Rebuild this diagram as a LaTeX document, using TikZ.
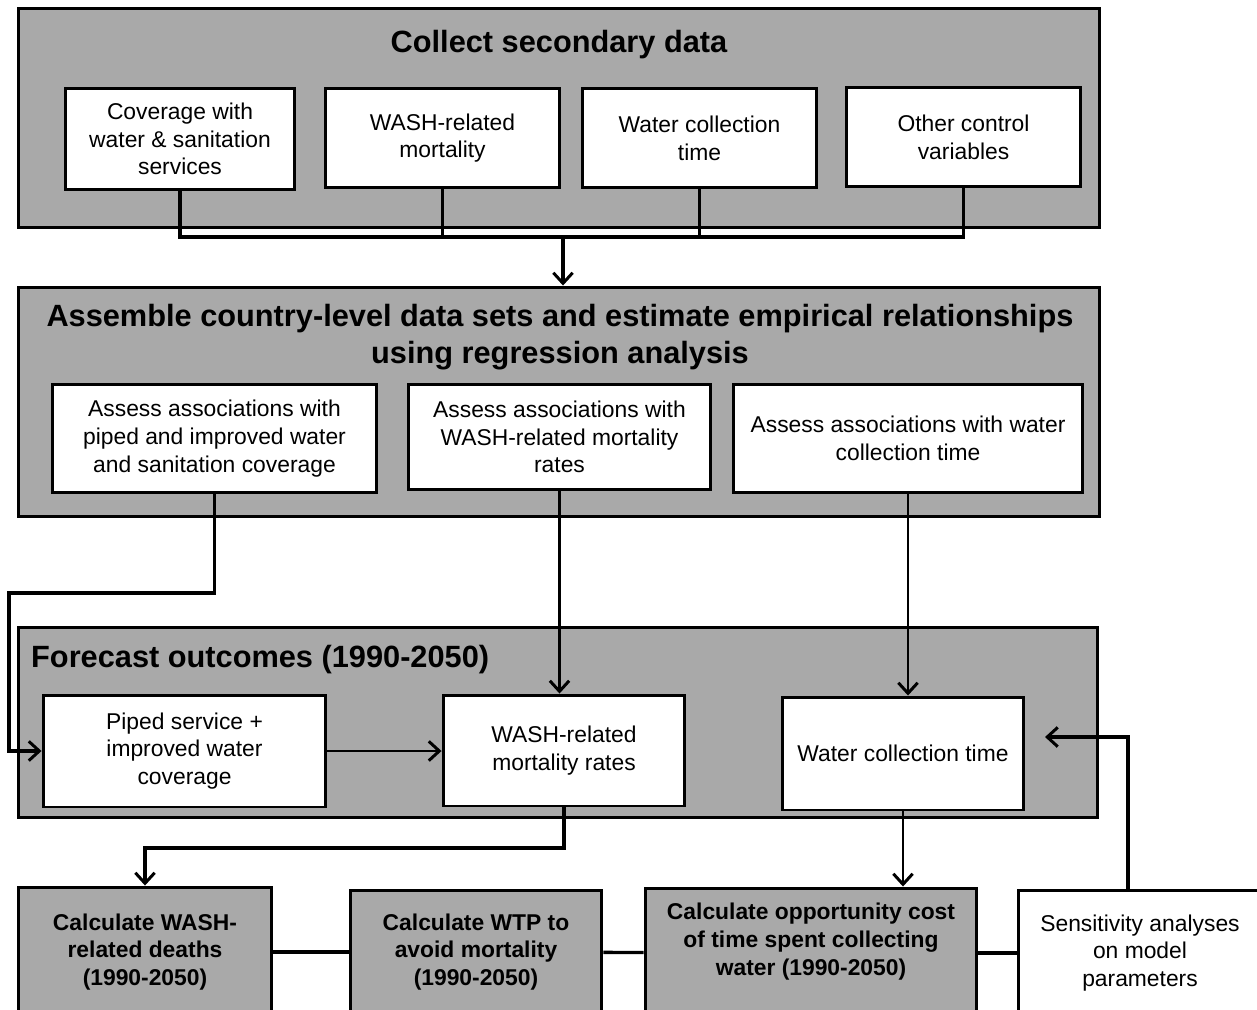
\documentclass[tikz,border=0pt]{standalone}
\usepackage{fontspec}
\setmainfont{Liberation Sans}
\usetikzlibrary{arrows.meta}
\definecolor{panelgray}{RGB}{169,169,169}

\begin{document}
\begin{tikzpicture}[x=0.02cm,y=-0.02cm,
    panel/.style={draw,line width=1.7pt,fill=panelgray},
    heading/.style={font=\bfseries\fontsize{17.5}{21}\selectfont,align=center},
    whitebox/.style={draw,line width=1.7pt,fill=white,align=center,inner sep=2pt,
      font=\fontsize{13}{15.8}\selectfont},
    calcbox/.style={draw,line width=1.7pt,fill=panelgray,align=center,inner sep=2pt,
      font=\bfseries\fontsize{13}{15.8}\selectfont},
    bus/.style={line width=1.9pt},
    feed/.style={line width=1.3pt},
    >={Straight Barb[length=6pt,width=11pt,line width=1.7pt]}]
  \useasboundingbox (0,0) rectangle (1257,1010);
  \clip (0,0) rectangle (1257,1010);

  % panels
  \node[panel,minimum width=21.64cm,minimum height=4.4cm] (collect) at (559,118) {};
  \node[panel,minimum width=21.64cm,minimum height=4.6cm] (assemble) at (559,402) {};
  \node[panel,minimum width=21.6cm,minimum height=3.82cm] (forecast) at (558,722.5) {};
  \node[heading] (collecttitle) at (559,45) {Collect secondary data};
  \node[heading] (assembletitle) at (560,337)
    {Assemble country-level data sets and estimate empirical relationships\\using regression analysis};
  \node[heading,anchor=west] (forecasttitle) at (25,660) {Forecast outcomes (1990-2050)};

  % secondary data
  \node[whitebox,minimum width=4.6cm,minimum height=2.04cm] (cov) at (180,139)
    {Coverage with\\water \& sanitation\\services};
  \node[whitebox,minimum width=4.7cm,minimum height=2cm] (mort) at (442.5,138)
    {WASH-related\\mortality};
  \node[whitebox,minimum width=4.7cm,minimum height=2cm] (time) at (699.5,138)
    {Water collection\\time};
  \node[whitebox,minimum width=4.7cm,minimum height=2cm] (other) at (963.5,137)
    {Other control\\variables};

  % regressions
  \node[whitebox,minimum width=6.5cm,minimum height=2.18cm] (assoccov) at (214.5,438.5)
    {Assess associations with\\piped and improved water\\and sanitation coverage};
  \node[whitebox,minimum width=6.06cm,minimum height=2.12cm] (assocmort) at (559.5,437)
    {Assess associations with\\WASH-related mortality\\rates};
  \node[whitebox,minimum width=7cm,minimum height=2.18cm] (assoctime) at (908,438.5)
    {Assess associations with water\\collection time};

  % forecasts
  \node[whitebox,minimum width=5.66cm,minimum height=2.24cm] (piped) at (184.5,751)
    {Piped service +\\improved water\\coverage};
  \node[whitebox,minimum width=4.84cm,minimum height=2.22cm] (washrate) at (564,750.5)
    {WASH-related\\mortality rates};
  \node[whitebox,minimum width=4.84cm,minimum height=2.26cm] (colltime) at (903,753.5)
    {Water collection time};

  % calculations
  \node[calcbox,minimum width=5.08cm,minimum height=2.6cm] (deaths) at (145,952)
    {Calculate WASH-\\related deaths\\(1990-2050)};
  \node[calcbox,minimum width=5.04cm,minimum height=2.48cm] (wtp) at (476,952)
    {Calculate WTP to\\avoid mortality\\(1990-2050)};
  \node[calcbox,minimum width=6.64cm,minimum height=2.6cm] (opp) at (811,953)
    {Calculate opportunity cost\\of time spent collecting\\water (1990-2050)\\\mbox{}};
  \node[whitebox,minimum width=4.88cm,minimum height=2.52cm] (sens) at (1140,953)
    {Sensitivity analyses\\on model\\parameters};

  % connectors
  \coordinate (bus) at (563,237);
  \draw[bus] (cov.south) -- (cov.south |- bus) -- (other.south |- bus) -- (other.south);
  \draw[bus] (mort.south) -- (mort.south |- bus);
  \draw[bus] (time.south) -- (time.south |- bus);
  \draw[bus,->] (bus) -- (bus |- assemble.north);

  \coordinate (leftturn) at (9,593);
  \draw[bus,->] (assoccov.south) |- (leftturn) |- (piped.west);
  \draw[feed,->] (assocmort.south) -- (assocmort.south |- washrate.north);
  \draw[feed,->] (assoctime.south) -- (assoctime.south |- colltime.north);
  \draw[feed,->] (piped.east) -- (piped.east -| washrate.west);

  \coordinate (bend) at (145,848);
  \draw[bus,->] (washrate.south) |- (bend) -- (deaths.north);
  \draw[feed,->] (colltime.south) -- (colltime.south |- opp.north);

  \coordinate (sensup) at (1128,737);
  \coordinate (sensback) at (1045,737);
  \draw[bus,->] (sens.north -| sensup) -- (sensup) -- (sensback);

  \draw[bus] (deaths) -- (wtp);
  \draw[bus] (wtp) -- (opp);
  \draw[line width=2.8pt] (opp) -- (sens);
\end{tikzpicture}
\end{document}
